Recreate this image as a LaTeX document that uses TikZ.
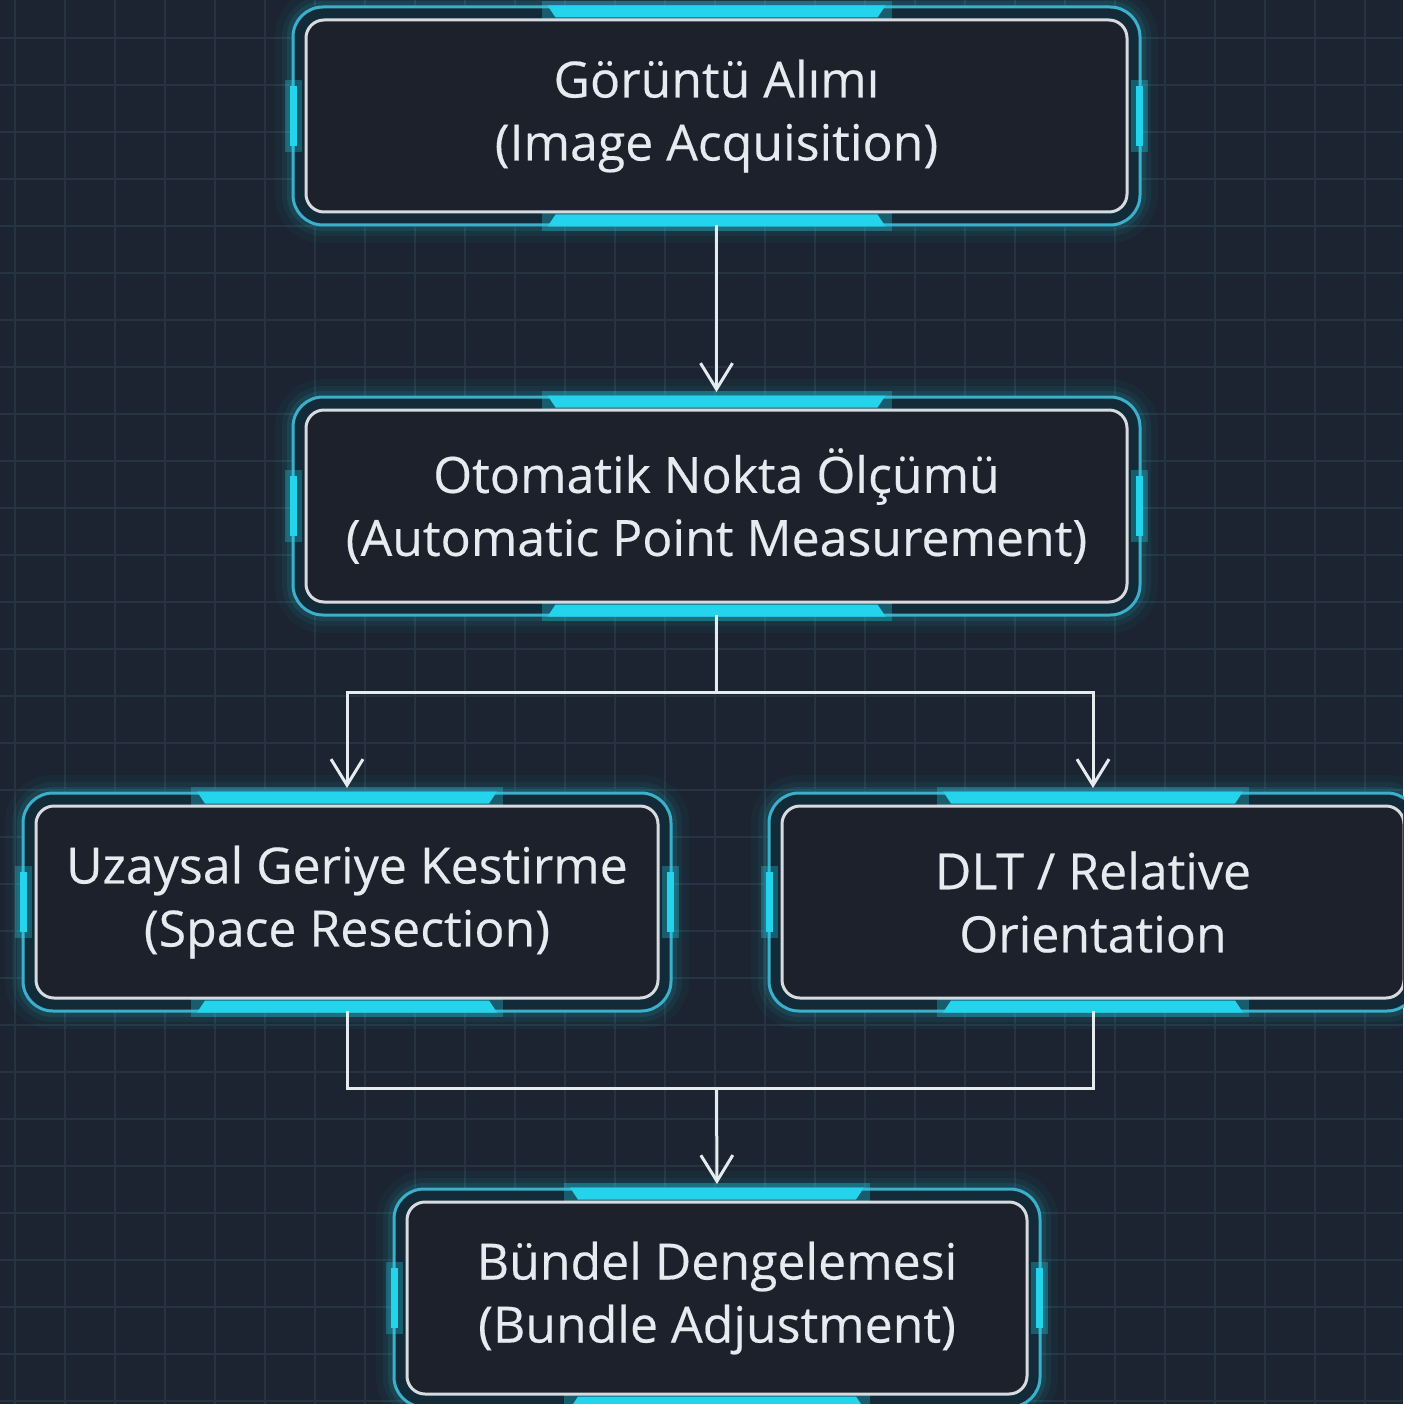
\documentclass[tikz,border=0pt]{standalone}
\usepackage{fontspec}
\setmainfont{Open Sans}[FakeBold=0.35]
\usepackage{tikz}
\usetikzlibrary{arrows.meta,positioning,calc,backgrounds}
\definecolor{bgnavy}{RGB}{27,36,48}
\definecolor{gridline}{RGB}{38,52,66}
\definecolor{boxfill}{RGB}{28,33,44}
\definecolor{gapteal}{RGB}{19,42,56}
\definecolor{neon}{RGB}{36,212,236}
\definecolor{rim}{RGB}{60,176,202}
\definecolor{inkwhite}{RGB}{230,235,240}

% glowing frame round a stage node: #1 node, #2 half length of the top/bottom bar
\newcommand{\neonframe}[2]{%
    \path (#1.south west) coordinate (sw) (#1.north east) coordinate (ne) (#1.center) coordinate (cc);
    \draw[line width=36pt, neon, opacity=0.04, rounded corners=30pt] (sw) rectangle (ne);
    \draw[line width=22pt, neon, opacity=0.06, rounded corners=30pt] (sw) rectangle (ne);
    \draw[line width=12pt, neon, opacity=0.10, rounded corners=30pt] (sw) rectangle (ne);
    \draw[line width=3pt, rim, fill=gapteal, rounded corners=30pt] (sw) rectangle (ne);
    % top and bottom bars
    \fill[neon, opacity=0.30] ($(cc|-ne)+(-#2-6,6)$) rectangle ($(cc|-ne)+(#2+6,-14)$);
    \fill[neon, opacity=0.30] ($(cc|-sw)+(-#2-6,-6)$) rectangle ($(cc|-sw)+(#2+6,14)$);
    \fill[neon] ($(cc|-ne)+(-#2,1.5)$) -- ++({2*#2},0) -- ++(-8,-12) -- ++({-2*#2+16},0) -- cycle;
    \fill[neon] ($(cc|-sw)+(-#2,-1.5)$) -- ++({2*#2},0) -- ++(-8,12) -- ++({-2*#2+16},0) -- cycle;
    % side bars
    \fill[neon, opacity=0.30] ($(sw|-cc)+(-8,-36)$) rectangle ($(sw|-cc)+(9,36)$);
    \fill[neon, opacity=0.30] ($(ne|-cc)+(8,-36)$) rectangle ($(ne|-cc)+(-9,36)$);
    \fill[neon] ($(sw|-cc)+(-3,-30)$) rectangle ($(sw|-cc)+(4,30)$);
    \fill[neon] ($(ne|-cc)+(3,-30)$) rectangle ($(ne|-cc)+(-4,30)$);
}

\tikzset{
    stage/.style={draw=inkwhite!85!gray, line width=3pt, fill=boxfill, rounded corners=18pt,
        minimum height=192pt, outer sep=13pt, inner sep=0pt, align=center,
        text=inkwhite, font=\fontsize{50}{63}\selectfont},
    link/.style={draw=inkwhite, line width=3pt},
    flow/.style={link, shorten >=5pt, -{Straight Barb[length=26pt,width=32pt,line width=3pt]}},
}

\begin{document}
\begin{tikzpicture}[x=1pt, y=1pt]
    \useasboundingbox (0,0) rectangle (1403,-1404);
    \clip (0,0) rectangle (1403,-1404);

    % Stages
    \node[stage, minimum width=821pt] (acq) at (716.5,-116) {Görüntü Alımı\\(Image Acquisition)};
    \node[stage, minimum width=821pt] (meas) at (716.5,-506) {Otomatik Nokta Ölçümü\\(Automatic Point Measurement)};
    \node[stage, minimum width=622pt] (resec) at (347,-902) {Uzaysal Geriye Kestirme\\(Space Resection)};
    \node[stage, minimum width=622pt] (dlt) at (1093,-902) {DLT / Relative\\Orientation};
    \node[stage, minimum width=620pt] (bundle) at (717,-1298) {Bündel Dengelemesi\\(Bundle Adjustment)};

    % Branch points
    \coordinate (split) at (716.5,-692);
    \coordinate (merge) at (716.5,-1088);

    % Connectors
    \draw[flow] (acq.south) -- (meas.north);
    \draw[link] (meas.south) -- (split);
    \draw[flow] (split) -| (resec.north);
    \draw[flow] (split) -| (dlt.north);
    \draw[link] (resec.south) |- (merge) -| (dlt.south);
    \draw[flow] (merge) -- (bundle.north);

    \begin{scope}[on background layer]
        % Background and grid
        \fill[bgnavy] (0,0) rectangle (1403,-1404);
        \foreach \gx in {15,65,...,1415}
            \draw[gridline, line width=1.2pt] (\gx,0) -- (\gx,-1404);
        \foreach \gy in {38,85,...,1420}
            \draw[gridline, line width=1.2pt] (0,-\gy) -- (1403,-\gy);
        % Frames
        \neonframe{acq}{169}
        \neonframe{meas}{169}
        \neonframe{resec}{150}
        \neonframe{dlt}{150}
        \neonframe{bundle}{147}
    \end{scope}
\end{tikzpicture}
\end{document}
